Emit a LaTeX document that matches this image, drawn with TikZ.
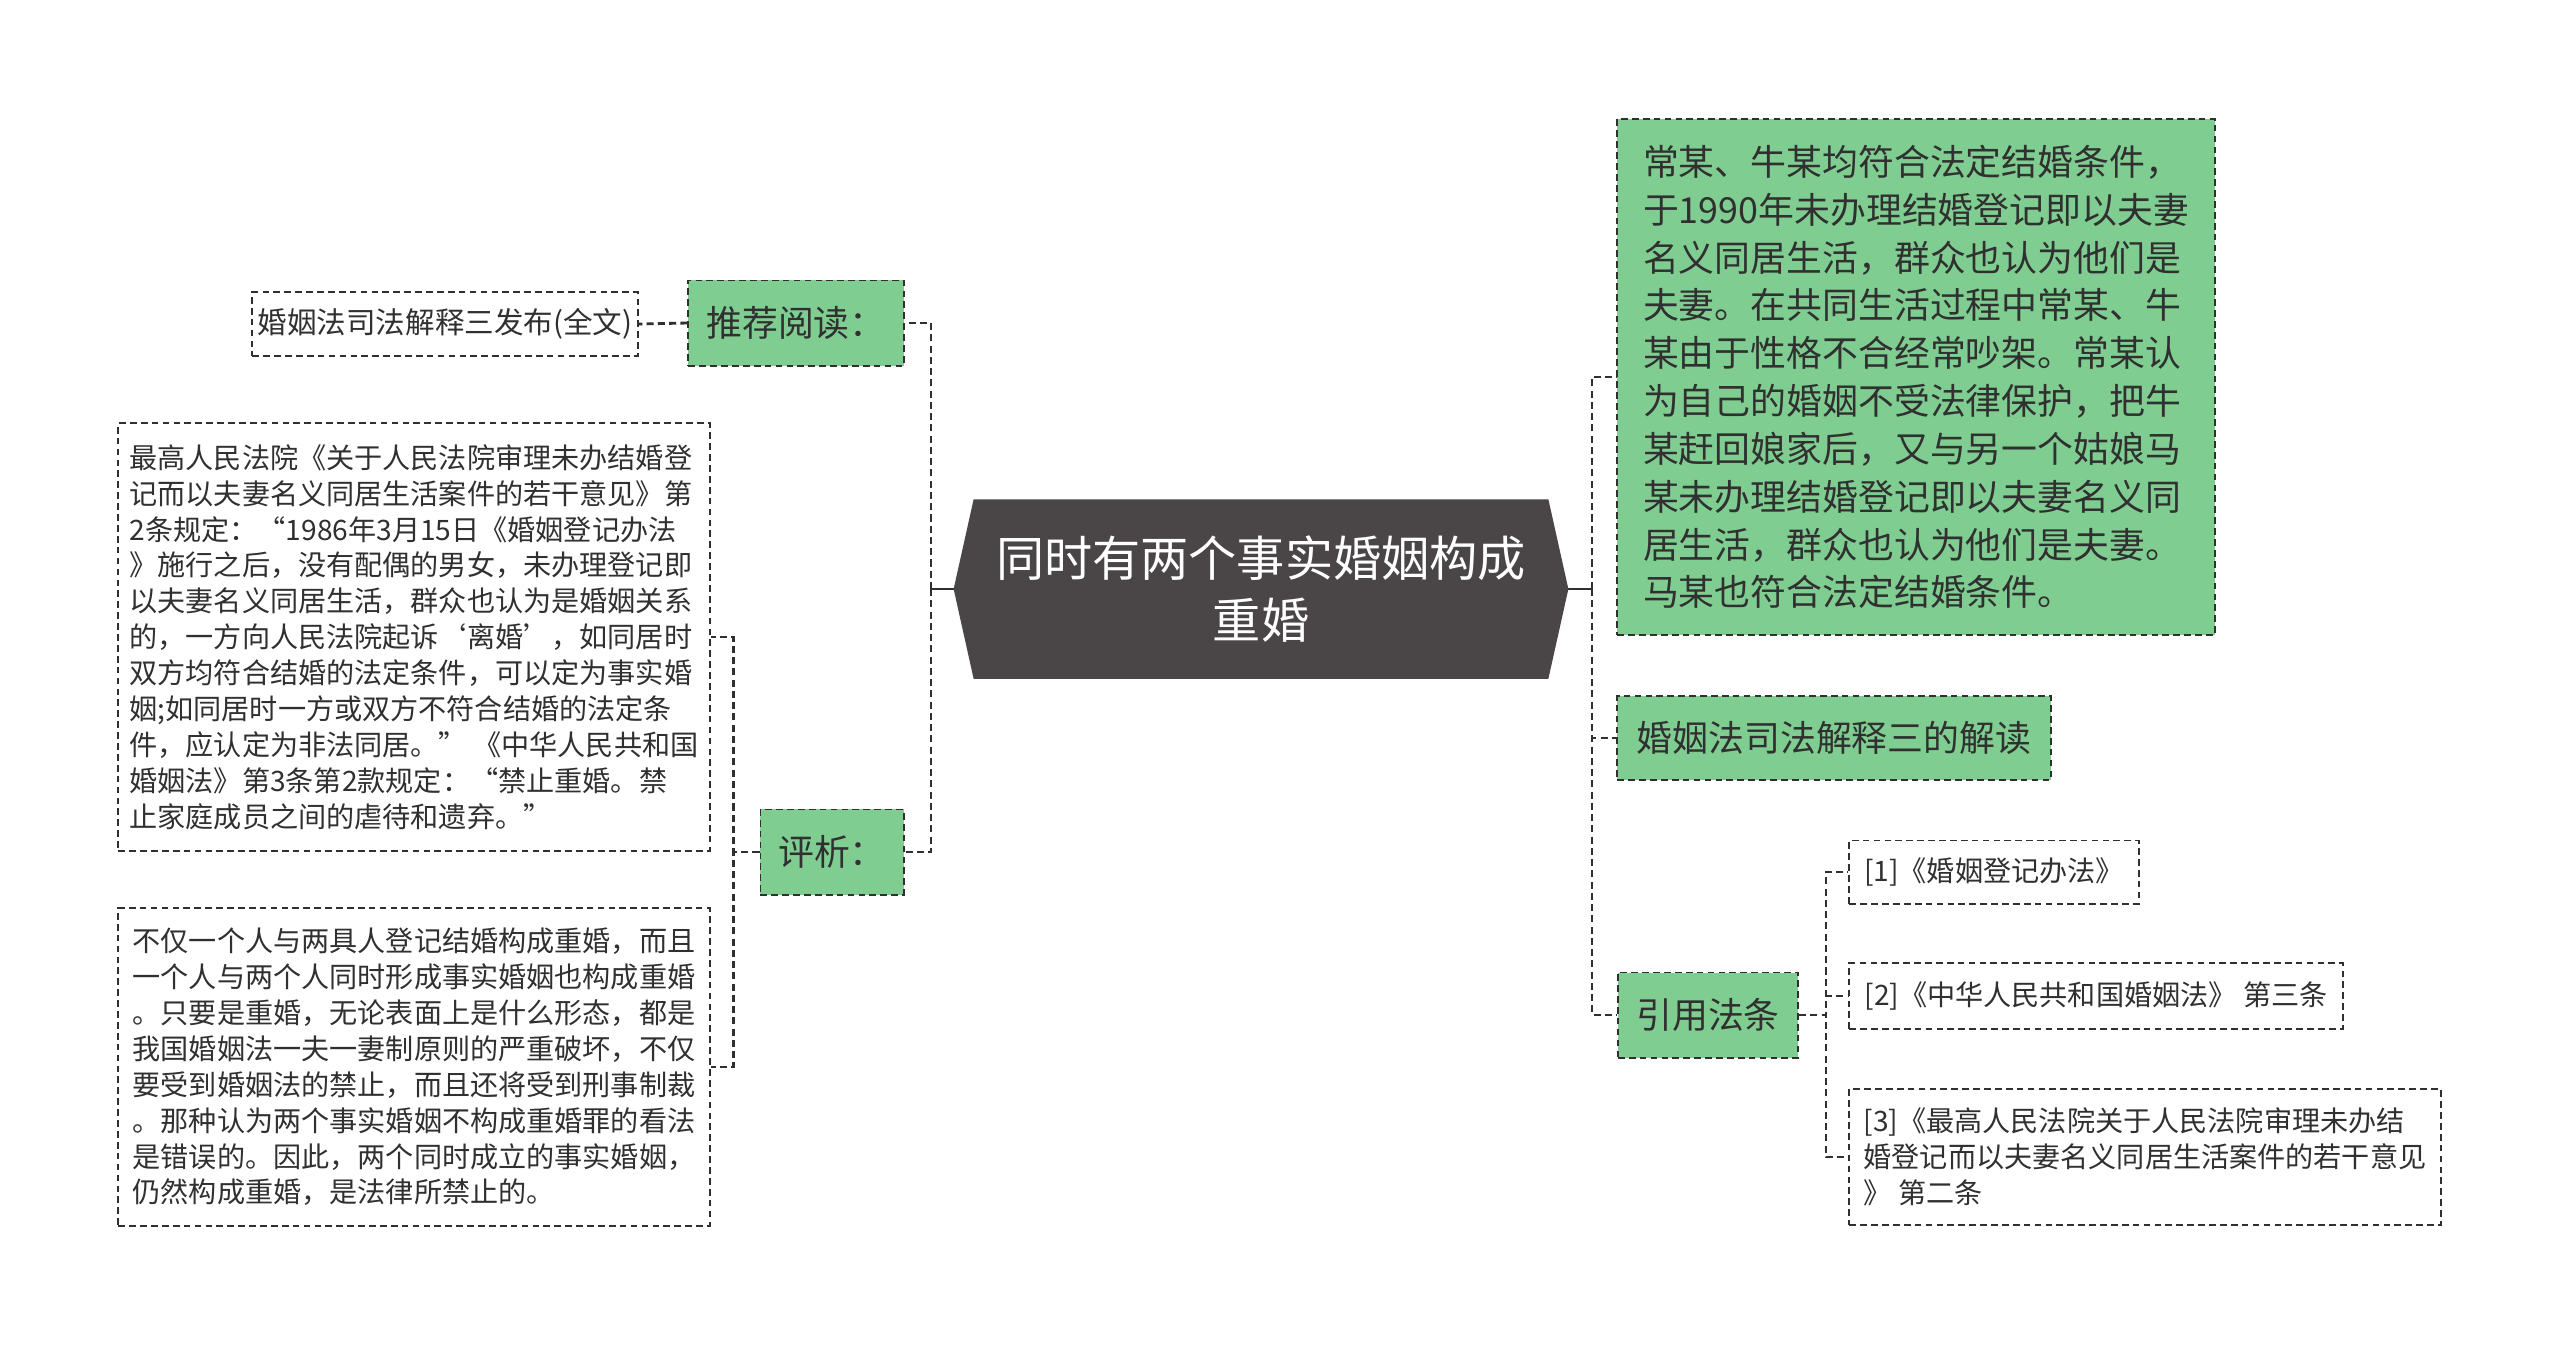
\documentclass[tikz,border=0pt]{standalone}
\usepackage{fontspec}
\setmainfont{Noto Sans CJK SC}
\usepackage{tikz}
\usetikzlibrary{calc, backgrounds}
\definecolor{Leaf}{HTML}{7FCD91}
\definecolor{Core}{HTML}{4A4546}
\definecolor{Ink}{HTML}{303030}
\tikzset{
  dbox/.style={draw=Ink, line width=0.55pt, dash pattern=on 1.9pt off 1.2pt,
               align=left, text=Ink, inner sep=0pt},
  leaf/.style={dbox, fill=Leaf, font=\fontsize{10.2}{13.6}\selectfont},
  note/.style={dbox, fill=white, font=\fontsize{8}{10.2}\selectfont},
  core/.style={text=white, align=center, inner sep=0pt,
               minimum width=5.73cm, minimum height=1.78cm,
               font=\fontsize{13.7}{17.6}\selectfont},
  link/.style={draw=Ink, line width=0.8pt, dash pattern=on 2pt off 1.2pt},
  stub/.style={draw=Ink, line width=0.75pt}
}

\begin{document}
\begin{tikzpicture}[x=0.01cm, y=-0.01cm]
  \useasboundingbox (0,0) rectangle (2560,1347);

  % centre topic
  \node[core] (root) at (1261,589) {同时有两个事实婚姻构成\\重婚};

  % left branch
  \node[leaf, minimum width=2.15cm, minimum height=0.85cm] (reco) at (796,323) {推荐阅读：};
  \node[note, minimum width=3.85cm, minimum height=0.64cm,
        font=\fontsize{8.4}{10.2}\selectfont] (full) at (445,324) {婚姻法司法解释三发布(全文)};
  \node[leaf, minimum width=1.43cm, minimum height=0.85cm] (ping) at (832,852) {评析：};
  \node[note, minimum width=5.91cm, minimum height=4.27cm] (law1) at (414,637) {%
    最高人民法院《关于人民法院审理未办结婚登\\
    记而以夫妻名义同居生活案件的若干意见》第\\
    2条规定：“1986年3月15日《婚姻登记办法\\
    》施行之后，没有配偶的男女，未办理登记即\\
    以夫妻名义同居生活，群众也认为是婚姻关系\\
    的，一方向人民法院起诉‘离婚’，如同居时\\
    双方均符合结婚的法定条件，可以定为事实婚\\
    姻;如同居时一方或双方不符合结婚的法定条\\
    件，应认定为非法同居。” 《中华人民共和国\\
    婚姻法》第3条第2款规定：“禁止重婚。禁\\
    止家庭成员之间的虐待和遗弃。”};
  \node[note, minimum width=5.91cm, minimum height=3.17cm] (law2) at (414,1067) {%
    不仅一个人与两具人登记结婚构成重婚，而且\\
    一个人与两个人同时形成事实婚姻也构成重婚\\
    。只要是重婚，无论表面上是什么形态，都是\\
    我国婚姻法一夫一妻制原则的严重破坏，不仅\\
    要受到婚姻法的禁止，而且还将受到刑事制裁\\
    。那种认为两个事实婚姻不构成重婚罪的看法\\
    是错误的。因此，两个同时成立的事实婚姻，\\
    仍然构成重婚，是法律所禁止的。};

  % right branch
  \node[leaf, minimum width=5.97cm, minimum height=5.16cm] (case) at (1916,377) {%
    常某、牛某均符合法定结婚条件，\\
    于1990年未办理结婚登记即以夫妻\\
    名义同居生活，群众也认为他们是\\
    夫妻。在共同生活过程中常某、牛\\
    某由于性格不合经常吵架。常某认\\
    为自己的婚姻不受法律保护，把牛\\
    某赶回娘家后，又与另一个姑娘马\\
    某未办理结婚登记即以夫妻名义同\\
    居生活，群众也认为他们是夫妻。\\
    马某也符合法定结婚条件。};
  \node[leaf, minimum width=4.33cm, minimum height=0.84cm] (read) at (1834,738) {婚姻法司法解释三的解读};
  \node[leaf, minimum width=1.80cm, minimum height=0.85cm] (cite) at (1708,1015) {引用法条};
  \node[note, minimum width=2.89cm, minimum height=0.63cm] (ref1) at (1994,872) {[1]《婚姻登记办法》};
  \node[note, minimum width=4.93cm, minimum height=0.66cm] (ref2) at (2096,996) {[2]《中华人民共和国婚姻法》 第三条};
  \node[note, minimum width=5.91cm, minimum height=1.36cm] (ref3) at (2145,1157) {%
    [3]《最高人民法院关于人民法院审理未办结\\
    婚登记而以夫妻名义同居生活案件的若干意见\\
    》 第二条};

  \begin{scope}[on background layer]
    \fill[white] (0,0) rectangle (2560,1347);
    \fill[Core] (root.north west) -- (root.north east) -- ($(root.east)+(20,0)$)
      -- (root.south east) -- (root.south west) -- ($(root.west)+(-20,0)$) -- cycle;
  \end{scope}

  % connectors
  \coordinate (lhub) at (931,589);
  \coordinate (rhub) at (1592,589);
  \draw[stub] ($(root.west)+(-20,0)$) -- (lhub);
  \draw[stub] ($(root.east)+(20,0)$) -- (rhub);
  \draw[link] (lhub) |- (reco.east);
  \draw[link] (lhub) |- (ping.east);
  \draw[link] (reco.west) -- (full.east);
  \draw[link] (ping.west) -- ++(-26,0) |- (law1.east);
  \draw[link] (ping.west) -- ++(-26,0) |- (law2.east);
  \draw[link] (rhub) |- (case.west);
  \draw[link] (rhub) |- (read.west);
  \draw[link] (rhub) |- (cite.west);
  \draw[link] (cite.east) -- ++(27,0) |- (ref1.west);
  \draw[link] (cite.east) -- ++(27,0) |- (ref2.west);
  \draw[link] (cite.east) -- ++(27,0) |- (ref3.west);
\end{tikzpicture}
\end{document}
